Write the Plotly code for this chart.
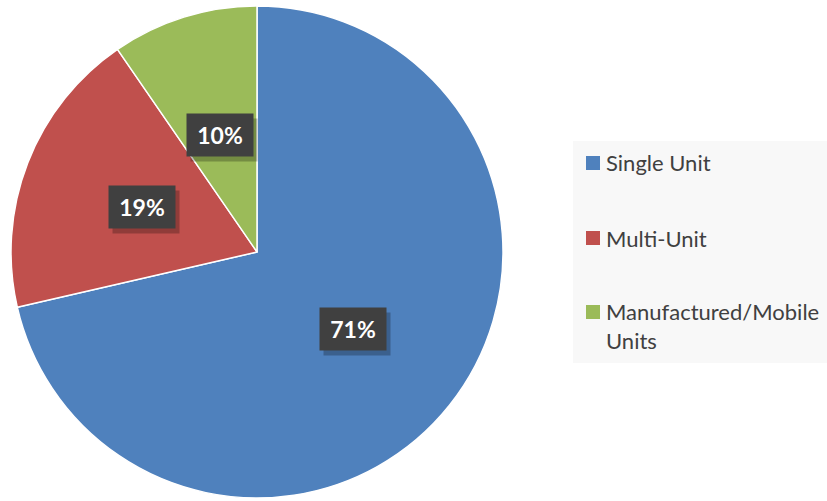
import math
import plotly.graph_objects as go

categories = ["Single Unit", "Multi-Unit", "Manufactured/Mobile Units"]
legend_labels = ["Single Unit", "Multi-Unit", "Manufactured/Mobile<br>Units"]
values = [71.4, 19.0, 9.6]
colors = ["#4F81BD", "#C0504D", "#9BBB59"]

W, H = 827, 501
CX, CY, R = 257, 252, 246
FONT = "Lato, Carlito, Calibri, sans-serif"


def px(x):
    return x / W


def py(y):
    return 1 - y / H


fig = go.Figure(go.Pie(
    labels=categories,
    values=values,
    sort=False,
    direction="clockwise",
    rotation=0,
    marker=dict(colors=colors, line=dict(color="white", width=1.5)),
    textinfo="none",
    hoverinfo="label+percent",
    showlegend=False,
    domain=dict(x=[px(CX - R), px(CX + R)], y=[py(CY + R), py(CY - R)]),
))

annotations = []
shapes = []
total = sum(values)
cum = 0.0
for v in values:
    mid = (cum + v / 2) / total * 2 * math.pi
    cum += v
    lx = CX + 0.5 * R * math.sin(mid)
    ly = CY - 0.5 * R * math.cos(mid)
    txt = f"{round(v / total * 100)}%"
    # shadow
    annotations.append(dict(
        x=px(lx + 4), y=py(ly + 5), xref="paper", yref="paper",
        xanchor="center", yanchor="middle",
        text="", showarrow=False, width=64, height=40,
        bgcolor="rgba(0,0,0,0.25)",
    ))
    annotations.append(dict(
        x=px(lx), y=py(ly), xref="paper", yref="paper",
        xanchor="center", yanchor="middle",
        text=f"<b>{txt}</b>", showarrow=False, width=64, height=40,
        bgcolor="#404040", font=dict(family=FONT, size=23, color="white"),
    ))

# legend background
shapes.append(dict(type="rect", xref="paper", yref="paper",
                   x0=px(573), x1=px(830), y0=py(363), y1=py(141),
                   fillcolor="#F8F8F8", line=dict(width=0), layer="below"))
legend_y = [163, 238, 312]
text_y = [163, 238, 326]
for lab, col, ly, ty in zip(legend_labels, colors, legend_y, text_y):
    shapes.append(dict(type="rect", xref="paper", yref="paper",
                       x0=px(586), x1=px(600), y0=py(ly + 7), y1=py(ly - 7),
                       fillcolor=col, line=dict(width=0)))
    annotations.append(dict(
        x=px(604), y=py(ty), xref="paper", yref="paper",
        xanchor="left", yanchor="middle", align="left",
        text=lab, showarrow=False,
        font=dict(family=FONT, size=22, color="#404040"),
    ))

fig.update_layout(
    width=W, height=H,
    margin=dict(l=0, r=0, t=0, b=0),
    paper_bgcolor="white",
    plot_bgcolor="white",
    annotations=annotations,
    shapes=shapes,
)

fig.write_html("out.html", config={"displayModeBar": False},
               post_script="document.body.style.margin='0';")
